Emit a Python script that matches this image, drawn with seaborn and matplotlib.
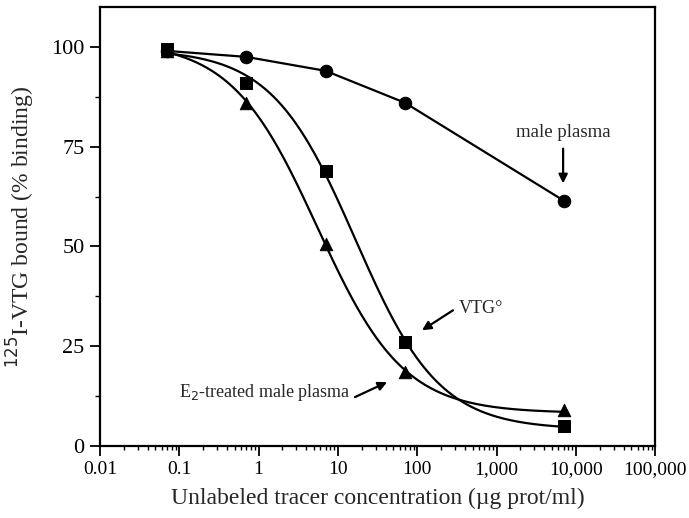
import numpy as np
import pandas as pd
import seaborn as sns
import matplotlib.pyplot as plt
from matplotlib.ticker import FixedLocator, LogLocator, NullFormatter

# Values
conc = [0.07, 0.7, 7, 70, 7000]
male_plasma = [99, 97.5, 94, 86, 61.5]
vtg = [99.5, 91, 69, 26, 5]
e2_plasma = [99, 86, 50.5, 18.5, 9]

x_ticks = [0.01, 0.1, 1, 10, 100, 1000, 10000, 100000]
x_tick_labels = ['0.01', '0.1', '1', '10', '100', '1,000', '10,000', '100,000']
y_ticks = [0, 25, 50, 75, 100]


def fit_4pl(x, y):
    # grid search on midpoint/slope, least squares for top/bottom
    x = np.asarray(x, float)
    y = np.asarray(y, float)
    best = None
    for logc in np.linspace(-1, 3, 201):
        for h in np.linspace(0.4, 2.5, 106):
            f = 1 / (1 + (x / 10 ** logc) ** h)
            A = np.column_stack([1 - f, f])
            coef, *_ = np.linalg.lstsq(A, y, rcond=None)
            err = np.sum((A @ coef - y) ** 2)
            if best is None or err < best[0]:
                best = (err, coef[0], coef[1], 10 ** logc, h)
    return best[1:]


def curve(x, y):
    b, t, c, h = fit_4pl(x, y)
    xs = np.logspace(np.log10(min(x)), np.log10(max(x)), 300)
    return pd.DataFrame({'x': xs, 'y': b + (t - b) / (1 + (xs / c) ** h)})


sns.set_style('ticks')
plt.rcParams['font.family'] = ['Liberation Serif', 'DejaVu Serif']

fig = plt.figure(figsize=(6.89, 5.18), dpi=100)
ax = fig.add_axes([0.145, 0.139, 0.806, 0.8475])

pts = pd.DataFrame({'x': conc, 'male': male_plasma, 'vtg': vtg, 'e2': e2_plasma})

sns.lineplot(data=pts, x='x', y='male', ax=ax, color='black', lw=1.6,
             marker='o', markersize=9, markeredgecolor='black')
for col, mk in [('vtg', 's'), ('e2', '^')]:
    fit = curve(pts['x'], pts[col])
    sns.lineplot(data=fit, x='x', y='y', ax=ax, color='black', lw=1.6)
    sns.scatterplot(data=pts, x='x', y=col, ax=ax, color='black',
                    marker=mk, s=80, edgecolor='black', zorder=5)

ax.set_xscale('log')
ax.set_xlim(0.01, 100000)
ax.set_ylim(0, 110)
ax.xaxis.set_major_locator(FixedLocator(x_ticks))
ax.set_xticklabels(x_tick_labels)
ax.xaxis.set_minor_locator(LogLocator(base=10, subs=np.arange(2, 10), numticks=20))
ax.xaxis.set_minor_formatter(NullFormatter())
ax.set_yticks(y_ticks)
ax.set_yticks([12.5, 37.5, 62.5, 87.5], minor=True)

for s in ['top', 'right', 'left', 'bottom']:
    ax.spines[s].set_visible(True)
    ax.spines[s].set_linewidth(1.6)
    ax.spines[s].set_color('black')
ax.tick_params(which='major', direction='out', length=7, width=1.3,
               colors='black', pad=4)
ax.tick_params(axis='x', which='major', labelsize=14)
ax.tick_params(axis='y', which='major', labelsize=16)
ax.tick_params(which='minor', direction='out', length=3.5, width=1, colors='black')
ax.tick_params(axis='x', which='minor', length=3)

ax.set_xlabel('Unlabeled tracer concentration (\u00b5g prot/ml)', fontsize=17, labelpad=7)
ax.set_ylabel('$^{125}$I-VTG bound (% binding)', fontsize=17, labelpad=10)

# annotation labels and their arrows
arrow = dict(arrowstyle='-|>', color='black', lw=1.6, mutation_scale=13,
             shrinkA=0, shrinkB=0)
ax.text(6900, 76.5, 'male plasma', fontsize=13.5, ha='center', va='bottom')
ax.annotate('', xy=(6900, 65.8), xytext=(6900, 74.5), arrowprops=arrow)
ax.text(336, 34.5, 'VTG\u00b0', fontsize=13, ha='left', va='center')
ax.annotate('', xy=(115, 29), xytext=(282, 34), arrowprops=arrow)
ax.text(14.2, 13.5, 'E$_2$-treated male plasma', fontsize=13, ha='right', va='center')
ax.annotate('', xy=(41.7, 16), xytext=(16.4, 12.25), arrowprops=arrow)

fig.savefig('out.png', dpi=100)
plt.close(fig)
